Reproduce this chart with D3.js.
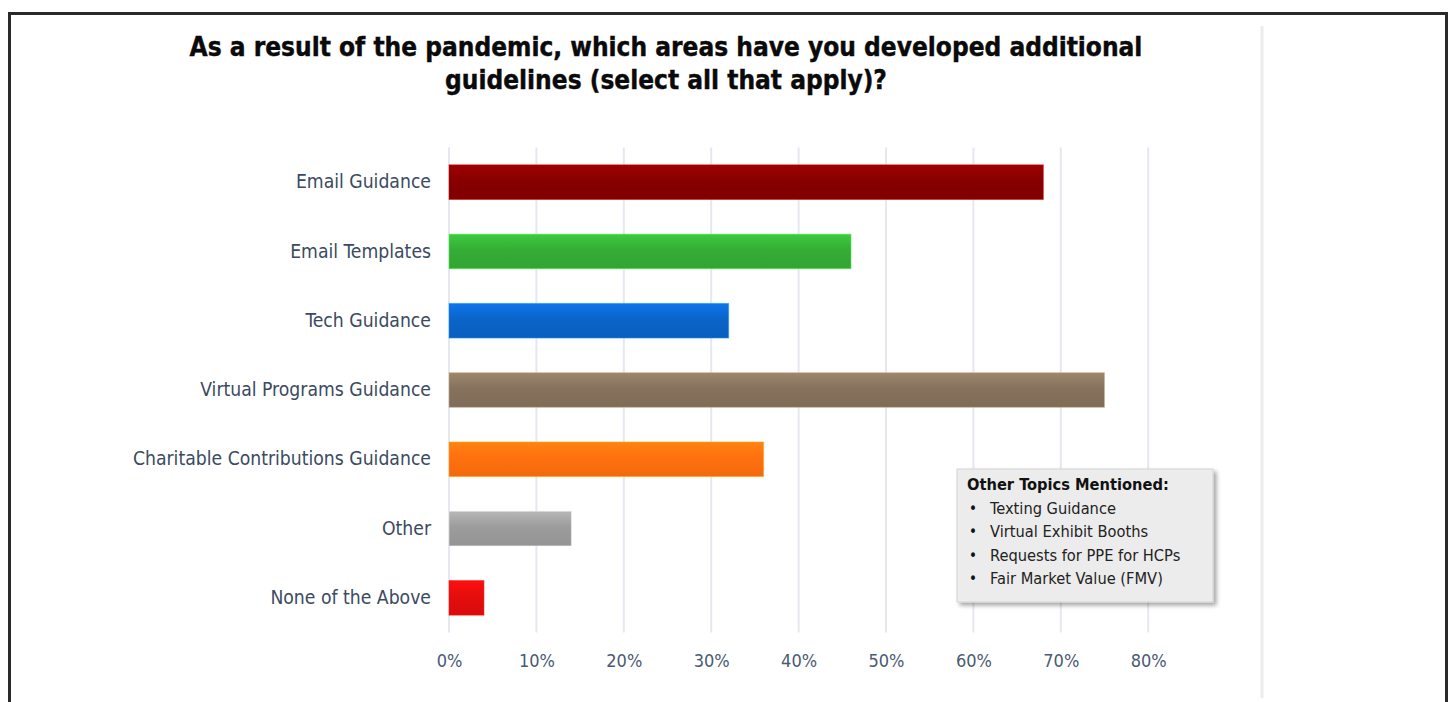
<!DOCTYPE html>
<html>
<head>
<meta charset="utf-8">
<script src="https://cdn.jsdelivr.net/npm/d3@7"></script>
<style>
  html, body { margin: 0; padding: 0; background: #fff; }
  svg { display: block; }
</style>
</head>
<body>
<svg id="chart" width="1448" height="702"></svg>
<script>
// Survey responses: share of respondents per guideline area
const categories = [
  "Email Guidance",
  "Email Templates",
  "Tech Guidance",
  "Virtual Programs Guidance",
  "Charitable Contributions Guidance",
  "Other",
  "None of the Above"
];
const values = [68, 46, 32, 75, 36, 14, 4];
const barColors = ["#870000", "#35ad35", "#0b64c8", "#86725c", "#ff700f", "#9c9c9c", "#e40d0d"];
const tickValues = [0, 10, 20, 30, 40, 50, 60, 70, 80];
const titleLines = [
  "As a result of the pandemic, which areas have you developed additional",
  "guidelines (select all that apply)?"
];
const noteHeading = "Other Topics Mentioned:";
const noteItems = [
  "Texting Guidance",
  "Virtual Exhibit Booths",
  "Requests for PPE for HCPs",
  "Fair Market Value (FMV)"
];

const svg = d3.select("#chart");
const defs = svg.append("defs");
const font = "'DejaVu Sans Condensed', 'DejaVu Sans', sans-serif";

// Outer frame
svg.append("path")
  .attr("d", "M9.5,702 V13.5 H1446.5 V702")
  .attr("fill", "none")
  .attr("stroke", "#2a2a2a")
  .attr("stroke-width", 3);

// Right divider
svg.append("line")
  .attr("x1", 1262).attr("x2", 1262)
  .attr("y1", 26).attr("y2", 698)
  .attr("stroke", "#ececec").attr("stroke-width", 3);

// Title
const title = svg.append("text")
  .attr("text-anchor", "middle")
  .attr("font-family", font)
  .attr("font-weight", "bold")
  .attr("font-size", 26)
  .attr("fill", "#0a0a0a")
  .attr("stroke", "#0a0a0a")
  .attr("stroke-width", 0.4);
titleLines.forEach((t, i) => {
  title.append("tspan").attr("x", 666).attr("y", 56 + i * 33).text(t);
});

const margin = { left: 449, top: 147.5, bottom: 632.5 };

const x = d3.scaleLinear().domain([0, 90]).range([margin.left, margin.left + 87.4 * 9]);
const y = d3.scaleBand().domain(categories).range([margin.top, margin.bottom]).paddingInner(0.5).paddingOuter(0.25);

// Gridlines
svg.append("g")
  .selectAll("line")
  .data(tickValues)
  .join("line")
  .attr("x1", d => x(d)).attr("x2", d => x(d))
  .attr("y1", margin.top).attr("y2", margin.bottom)
  .attr("stroke", "#e6e8ef").attr("stroke-width", 2);

// Gradient fills per bar
barColors.forEach((c, i) => {
  const base = d3.color(c);
  const g = defs.append("linearGradient")
    .attr("id", "grad" + i)
    .attr("x1", 0).attr("y1", 0).attr("x2", 0).attr("y2", 1);
  g.append("stop").attr("offset", "0%").attr("stop-color", base.brighter(0.45));
  g.append("stop").attr("offset", "45%").attr("stop-color", base);
  g.append("stop").attr("offset", "100%").attr("stop-color", base.darker(0.15));
});

// Bars
svg.append("g")
  .selectAll("rect")
  .data(values)
  .join("rect")
  .attr("x", x(0))
  .attr("y", (d, i) => y(categories[i]))
  .attr("width", d => x(d) - x(0))
  .attr("height", y.bandwidth())
  .attr("fill", (d, i) => `url(#grad${i})`)
  .attr("stroke", (d, i) => d3.color(barColors[i]).brighter(1.2))
  .attr("stroke-opacity", 0.5)
  .attr("stroke-width", 1);

// Category axis labels
const yAxis = d3.axisLeft(y).tickSize(0).tickPadding(18);
const yg = svg.append("g").attr("transform", `translate(${x(0)},0)`).call(yAxis);
yg.select(".domain").remove();
yg.selectAll("text")
  .attr("font-family", font)
  .attr("font-size", 19.2)
  .attr("fill", "#3b4a61");

// Percentage axis labels
const xAxis = d3.axisBottom(x).tickValues(tickValues).tickFormat(d => d + "%").tickSize(0).tickPadding(22);
const xg = svg.append("g").attr("transform", `translate(0,${margin.bottom})`).call(xAxis);
xg.select(".domain").remove();
xg.selectAll("text")
  .attr("font-family", font)
  .attr("font-size", 18)
  .attr("fill", "#4a5a72");

// Note box listing other topics
const box = { x: 957, y: 469, w: 256, h: 133 };
const shadow = defs.append("filter").attr("id", "shadow").attr("x", "-10%").attr("y", "-10%").attr("width", "130%").attr("height", "130%");
shadow.append("feDropShadow").attr("dx", 3).attr("dy", 3).attr("stdDeviation", 2).attr("flood-color", "#000").attr("flood-opacity", 0.35);

svg.append("rect")
  .attr("x", box.x).attr("y", box.y).attr("width", box.w).attr("height", box.h)
  .attr("fill", "#ececec").attr("stroke", "#d4d4d4").attr("stroke-width", 1)
  .attr("filter", "url(#shadow)");

svg.append("text")
  .attr("x", box.x + 10).attr("y", box.y + 21)
  .attr("font-family", font).attr("font-weight", "bold").attr("font-size", 16.3)
  .attr("fill", "#111").text(noteHeading);

const items = svg.append("g").selectAll("g").data(noteItems).join("g")
  .attr("transform", (d, i) => `translate(${box.x + 12},${box.y + 45 + i * 23.3})`);
items.append("text").attr("x", 0).attr("font-family", font).attr("font-size", 15).attr("fill", "#111").text("\u2022");
items.append("text").attr("x", 21).attr("font-family", font).attr("font-size", 16.3).attr("fill", "#222").text(d => d);
</script>
</body>
</html>
